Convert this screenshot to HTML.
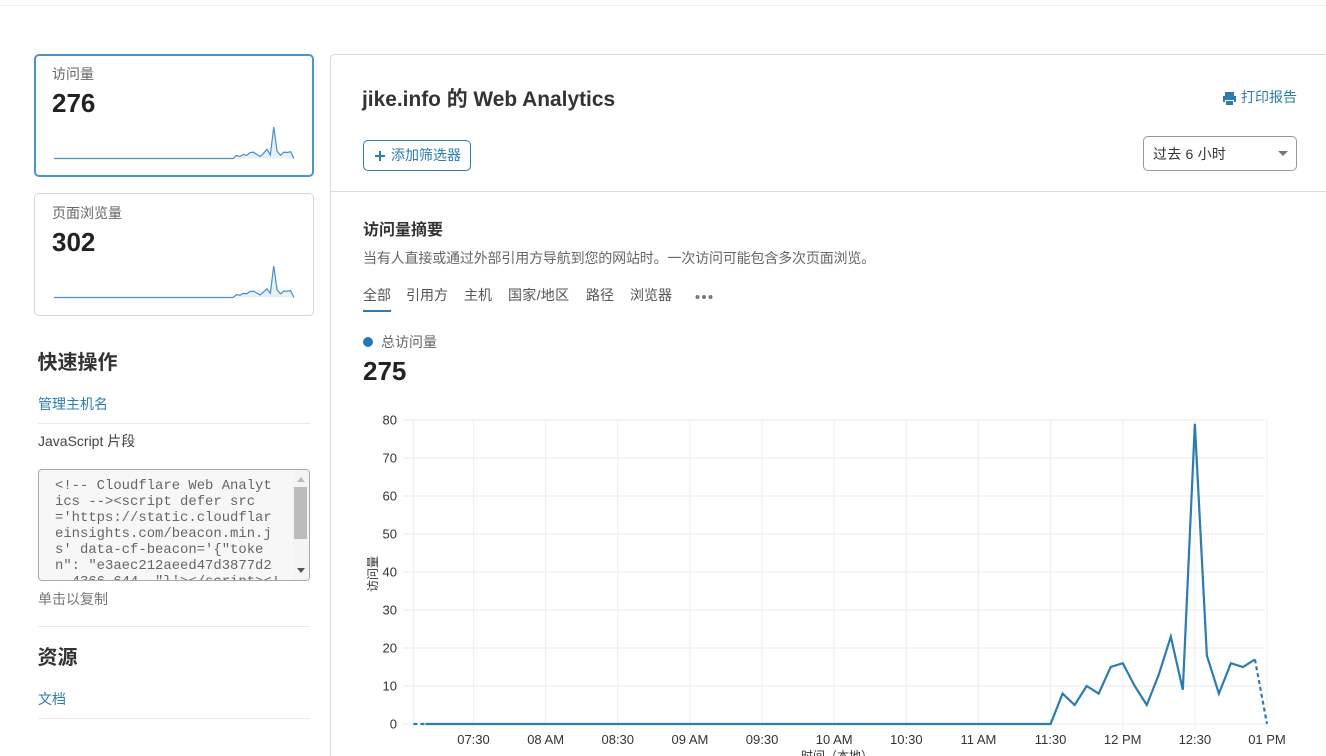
<!DOCTYPE html>
<html lang="zh">
<head>
<meta charset="utf-8">
<title>jike.info Web Analytics</title>
<style>
html,body{margin:0;padding:0;background:#fff;}
#page{position:relative;width:1326px;height:756px;overflow:hidden;background:#fff;font-family:"Liberation Sans","Noto Sans CJK SC",sans-serif;color:#333;}
.t{position:absolute;line-height:20px;white-space:nowrap;}
.rule{position:absolute;height:1px;background:#e9e9e9;}
.card{position:absolute;left:34px;width:280px;height:123px;box-sizing:border-box;border-radius:5px;background:#fff;}
.lbl{font-size:14px;color:#666;}
.num{font-size:26px;font-weight:bold;color:#222;}
.h2{font-size:20px;font-weight:bold;color:#333;}
.link{font-size:14px;color:#2c7cb0;}
.tab{font-size:14px;color:#555;top:285px;}
svg{position:absolute;left:0;top:0;}
svg text{font-family:"Liberation Sans","Noto Sans CJK SC",sans-serif;}
</style>
</head>
<body>
<div id="page">
  <div class="rule" style="left:0;top:5px;width:1326px;background:#eee"></div>

  <div class="card" style="top:54px;border:2px solid #4a97c4"></div>
  <div class="t lbl" style="left:52px;top:64px">访问量</div>
  <div class="t num" style="left:52px;top:93px">276</div>
  <div class="card" style="top:193px;border:1px solid #d5d5d5"></div>
  <div class="t lbl" style="left:52px;top:203px">页面浏览量</div>
  <div class="t num" style="left:52px;top:232px">302</div>

  <div class="t h2" style="left:37.5px;top:353px">快速操作</div>
  <div class="t link" style="left:38px;top:394px">管理主机名</div>
  <div class="rule" style="left:38px;top:423px;width:272px"></div>
  <div class="t" style="left:38px;top:431px;font-size:14px;color:#444">JavaScript 片段</div>
  <div style="position:absolute;left:38px;top:469px;width:272px;height:112px;box-sizing:border-box;border:1px solid #aaa;border-radius:4px;background:#f7f7f7;overflow:hidden">
    <pre style="position:absolute;left:16px;top:8px;margin:0;font-family:'Liberation Mono',monospace;font-size:13.9px;line-height:16px;color:#666">&lt;!-- Cloudflare Web Analyt
ics --&gt;&lt;script defer src
='https://static.cloudflar
einsights.com/beacon.min.j
s' data-cf-beacon='{"toke
n": "e3aec212aeed47d3877d2
  4366 644  "}'&gt;&lt;/script&gt;&lt;!</pre>
    <div style="position:absolute;right:0;top:0;width:16px;height:110px;background:#f4f4f4">
      <div style="position:absolute;left:1px;top:17px;width:13px;height:52px;background:#bcbcbc"></div>
      <div style="position:absolute;left:3.5px;top:7px;border:4px solid transparent;border-top:0;border-bottom:5px solid #bbb"></div>
      <div style="position:absolute;left:3.5px;top:98px;border:4px solid transparent;border-bottom:0;border-top:5px solid #555"></div>
    </div>
  </div>
  <div class="t" style="left:38px;top:589px;font-size:14px;color:#777">单击以复制</div>
  <div class="rule" style="left:38px;top:626px;width:272px"></div>
  <div class="t h2" style="left:37.5px;top:648px">资源</div>
  <div class="t link" style="left:38px;top:689px">文档</div>
  <div class="rule" style="left:38px;top:718px;width:272px"></div>

  <div style="position:absolute;left:330px;top:54px;width:1010px;height:720px;box-sizing:border-box;border:1px solid #d9d9d9;border-radius:5px 0 0 0"></div>
  <div class="t" style="left:362px;top:90px;font-size:20.9px;font-weight:bold;color:#333">jike.info 的 Web Analytics</div>
  <svg style="left:1222px;top:91px" width="15" height="15" viewBox="0 0 15 15"><path d="M3 1h9v4H3zM1 5h13a1 1 0 0 1 0 0v6h-2V9H3v2H1zM4 10h7v4H4z" fill="#2c7cb0"/></svg>
  <div class="t" style="left:1241px;top:87px;font-size:14px;color:#2c7cb0">打印报告</div>
  <div style="position:absolute;left:363px;top:140px;width:108px;height:31px;box-sizing:border-box;border:1px solid #2c7cb0;border-radius:5px"></div>
  <div style="position:absolute;left:375px;top:155px;width:10px;height:2px;background:#2c7cb0"></div>
  <div style="position:absolute;left:379px;top:151px;width:2px;height:10px;background:#2c7cb0"></div>
  <div class="t" style="left:391px;top:145px;font-size:14px;color:#2c7cb0">添加筛选器</div>
  <div style="position:absolute;left:1143px;top:136px;width:154px;height:35px;box-sizing:border-box;border:1px solid #999;border-radius:5px"></div>
  <div class="t" style="left:1153px;top:144px;font-size:14px;color:#333;letter-spacing:.2px">过去 6 小时</div>
  <div style="position:absolute;left:1278px;top:151px;border:5px solid transparent;border-bottom:0;border-top:5px solid #777"></div>
  <div class="rule" style="left:331px;top:191px;width:995px;background:#ddd"></div>

  <div class="t" style="left:363px;top:221px;font-size:16px;font-weight:bold;color:#333">访问量摘要</div>
  <div class="t" style="left:363px;top:248px;font-size:14px;color:#666;letter-spacing:-.16px">当有人直接或通过外部引用方导航到您的网站时。一次访问可能包含多次页面浏览。</div>
  <div class="t tab" style="left:363px">全部</div>
  <div style="position:absolute;left:363px;top:310px;width:28px;height:2px;background:#2c7cb0"></div>
  <div class="t tab" style="left:406px">引用方</div>
  <div class="t tab" style="left:464px">主机</div>
  <div class="t tab" style="left:508px;letter-spacing:.3px">国家/地区</div>
  <div class="t tab" style="left:586px">路径</div>
  <div class="t tab" style="left:630px">浏览器</div>
  <svg style="left:694px;top:293px" width="20" height="8"><circle cx="3.5" cy="4" r="2" fill="#777"/><circle cx="10" cy="4" r="2" fill="#777"/><circle cx="16.5" cy="4" r="2" fill="#777"/></svg>

  <div style="position:absolute;left:363px;top:337px;width:10px;height:10px;border-radius:50%;background:#2478b8"></div>
  <div class="t lbl" style="left:381px;top:332px;color:#666">总访问量</div>
  <div class="t num" style="left:363px;top:361px">275</div>

  <svg id="chart" width="1326" height="756"></svg>
</div>

<script>
var yTicks = [0, 10, 20, 30, 40, 50, 60, 70, 80];
var xTickMinutes = [450, 480, 510, 540, 570, 600, 630, 660, 690, 720, 750, 780];
var xTickLabels = ['07:30', '08 AM', '08:30', '09 AM', '09:30', '10 AM', '10:30', '11 AM', '11:30', '12 PM', '12:30', '01 PM'];
var startMinute = 425;
var stepMinutes = 5;
var visits = [0,0,0,0,0,0,0,0,0,0,0,0,0,0,0,0,0,0,0,0,0,0,0,0,0,0,0,0,0,0,0,0,0,0,0,0,0,0,0,0,0,0,0,0,0,0,0,0,0,0,0,0,0,0,
  8,5,10,8,15,16,10,5,13,23,9,79,18,8,16,15,17,0];
var pageviews = [0,0,0,0,0,0,0,0,0,0,0,0,0,0,0,0,0,0,0,0,0,0,0,0,0,0,0,0,0,0,0,0,0,0,0,0,0,0,0,0,0,0,0,0,0,0,0,0,0,0,0,0,0,0,
  8,6,11,10,16,17,12,7,15,23,11,84,20,10,17,17,18,0];

var NS = 'http://www.w3.org/2000/svg';
var svg = document.getElementById('chart');
function mk(tag, attrs) {
  var el = document.createElementNS(NS, tag);
  for (var k in attrs) el.setAttribute(k, attrs[k]);
  svg.appendChild(el);
  return el;
}
function xScale(min) { return 473.5 + (min - 450) * 2.4045; }
function yScale(v) { return 724 - v * 3.8; }
function pts(arr, from, to, fx, fy) {
  var out = [];
  for (var i = from; i <= to; i++) out.push(fx(i).toFixed(2) + ',' + fy(arr[i]).toFixed(2));
  return out.join(' ');
}

yTicks.forEach(function (v) {
  var g = mk('line', {x1: 403, x2: 1265, y1: yScale(v), y2: yScale(v), stroke: '#f0f0f0', 'stroke-width': 1.5});
  
  
  var t = mk('text', {x: 397, y: yScale(v) + 4.5, 'text-anchor': 'end', 'font-size': 13, fill: '#333'});
  t.textContent = v;
  
  
});

var firstLine = mk('line', {x1: xScale(startMinute), x2: xScale(startMinute), y1: 420, y2: 728, stroke: '#f0f0f0', 'stroke-width': 1.2});



xTickMinutes.forEach(function (m, i) {
  var g = mk('line', {x1: xScale(m), x2: xScale(m), y1: 420, y2: 728, stroke: '#f0f0f0', 'stroke-width': 1.2});
  
  
  var t = mk('text', {x: xScale(m), y: 744, 'text-anchor': 'middle', 'font-size': 13, fill: '#333'});
  t.textContent = xTickLabels[i];
  
  
});

var yTitle = mk('text', {x: 0, y: 0, transform: 'translate(377 574) rotate(-90)', 'text-anchor': 'middle', 'font-size': 12, fill: '#333'});
yTitle.textContent = '访问量';



var xTitle = mk('text', {x: 837, y: 760, 'text-anchor': 'middle', 'font-size': 12, fill: '#333'});
xTitle.textContent = '时间（本地）';



function fx(i) { return xScale(startMinute + i * stepMinutes); }
var n = visits.length;
var lineStyle = {fill: 'none', stroke: '#2c7cb0', 'stroke-width': 2.2, 'stroke-linejoin': 'miter'};
function seriesLine(from, to, dash, name) {
  var attrs = {points: pts(visits, from, to, fx, yScale)};
  for (var k in lineStyle) attrs[k] = lineStyle[k];
  if (dash) attrs['stroke-dasharray'] = '4 3';
  var p = mk('polyline', attrs);
  
  
}
seriesLine(0, 1, true, 'visits-line-partial-start');
seriesLine(1, n - 2, false, 'visits-line');
seriesLine(n - 2, n - 1, true, 'visits-line-partial-end');

function sparkline(arr, baseY, name) {
  var max = Math.max.apply(null, arr);
  var sx = function (i) { return 54 + i * (240 / (arr.length - 1)); };
  var sy = function (v) { return baseY - v / max * 31.5; };
  var area = mk('polygon', {points: '54,' + baseY + ' ' + pts(arr, 0, arr.length - 1, sx, sy) + ' 294,' + baseY, fill: '#e6f0f8'});
  
  
  var line = mk('polyline', {points: pts(arr, 0, arr.length - 1, sx, sy), fill: 'none', stroke: '#4a8fbe', 'stroke-width': 1.2});
  
  
}
sparkline(visits, 158.5, 'visits-sparkline');
sparkline(pageviews, 297.5, 'pageviews-sparkline');
</script>
</body>
</html>
